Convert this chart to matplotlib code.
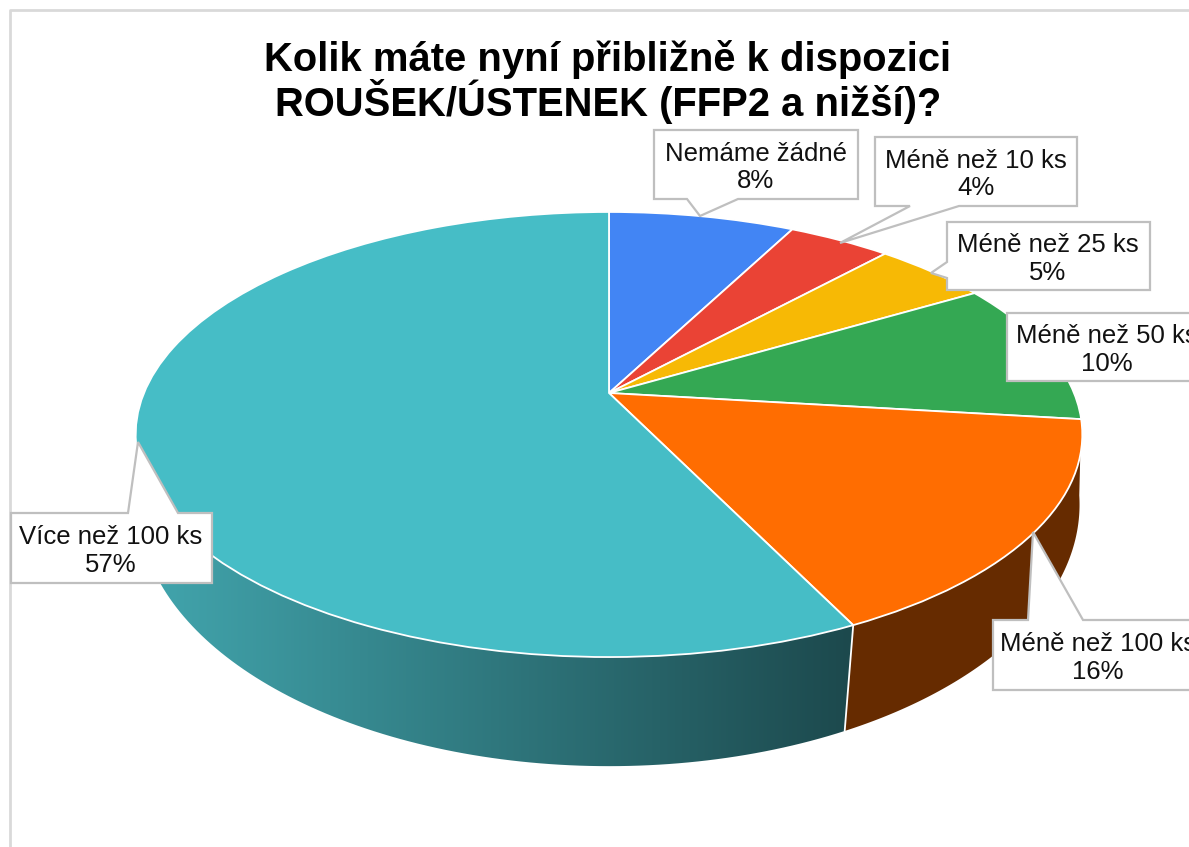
import matplotlib
matplotlib.use('Agg')
import matplotlib.pyplot as plt
import numpy as np
from matplotlib.colors import LinearSegmentedColormap
from matplotlib.patches import Polygon
from matplotlib.transforms import Transform

plt.rcParams['font.family'] = ['Liberation Sans', 'DejaVu Sans']

title = 'Kolik máte nyní přibližně k dispozici\nROUŠEK/ÚSTENEK (FFP2 a nižší)?'
categories = ['Nemáme žádné', 'Méně než 10 ks', 'Méně než 25 ks',
              'Méně než 50 ks', 'Méně než 100 ks', 'Více než 100 ks']
values = [7.6, 4.2, 4.7, 10.4, 15.9, 57.2]
colors = ['#4285F4', '#EA4335', '#F7B905', '#34A853', '#FF6D01', '#46BDC6']

# label boxes in pixels: left, top, right, bottom, text centre x, callout points
boxes = [
    (654, 130, 858, 199, 756, [(738, 199), (700, 216), (687, 199)]),
    (875, 137, 1077, 206, 976, [(959, 206), (840, 243), (910, 206)]),
    (947, 222, 1150, 290, 1048, [(947, 278), (931, 273), (947, 262)]),
    (1007, 313, 1200, 381, 1107, []),
    (993, 620, 1200, 690, 1098, [(1083, 620), (1033, 532), (1028, 620)]),
    (11, 513, 212, 583, 111, [(178, 513), (138, 442), (128, 513)]),
]


class Tilt(Transform):
    # perspective view of a unit circle lying on a table, result in pixels
    input_dims = 2
    output_dims = 2

    def __init__(self, a, b, cy, k, cx=609):
        super().__init__()
        self.a, self.b, self.cy, self.k, self.cx = a, b, cy, k, cx

    def transform_non_affine(self, xy):
        xy = np.asarray(xy, dtype=float)
        d = 1 + self.k * xy[:, 1]
        return np.column_stack((self.cx + self.a * xy[:, 0] / d,
                                self.cy - self.b * xy[:, 1] / d))


top = Tilt(465, 214.8, 393, 0.1865)
bottom = Tilt(465, 255.5, 464.5, 0.153)


def arc(tr, t1, t2):
    t = np.radians(np.linspace(t1, t2, 200))
    return tr.transform_non_affine(np.column_stack((np.cos(t), np.sin(t))))


fig = plt.figure(figsize=(11.89, 8.47), dpi=100)
ax = fig.add_axes([0, 0, 1, 1])

wedges, _ = ax.pie(values, colors=colors, startangle=90, counterclock=False,
                   wedgeprops={'edgecolor': 'white', 'linewidth': 1.3, 'zorder': 3})
for w in wedges:
    w.set_transform(top + ax.transData)

# sides of the two front slices
orange, teal = wedges[4], wedges[5]
pts = np.vstack((arc(top, orange.theta1, orange.theta2), arc(bottom, orange.theta2, orange.theta1)))
ax.fill(pts[:, 0], pts[:, 1], color='#662B00', lw=0, zorder=1)

pts = np.vstack((arc(top, teal.theta1, teal.theta2), arc(bottom, teal.theta2, teal.theta1)))
side = ax.fill(pts[:, 0], pts[:, 1], color='none', lw=0, zorder=1)[0]
cmap = LinearSegmentedColormap.from_list('side', ['#41A3AB', '#1C484C'])
im = ax.imshow(np.linspace(0, 1, 256).reshape(1, -1), cmap=cmap, aspect='auto',
               extent=[160, 860, 847, 0], zorder=1.5)
im.set_clip_path(side)

# divider between the two sides
a = arc(top, orange.theta1, orange.theta1)[0]
b = arc(bottom, orange.theta1, orange.theta1)[0]
ax.plot([a[0], b[0]], [a[1], b[1]], color='white', lw=1.3, zorder=2)

# outer chart frame
ax.plot([10, 10, 1189], [847, 10, 10], color='#D9D9D9', lw=2, zorder=1)

ax.text(608, 82, title, ha='center', va='center', fontsize=28.8, fontweight='bold',
        color='black', linespacing=0.99)

for cat, val, box in zip(categories, values, boxes):
    l, t, r, b, tx, call = box
    corners = [(l, t), (r, t), (r, b), (l, b)]
    # put the callout into the side of the box it leaves from
    if call and call[0][0] == l:
        pts = corners + call
    elif call and call[0][1] == b:
        pts = [(l, t), (r, t), (r, b)] + call + [(l, b)]
    elif call:
        pts = [(l, t)] + call[::-1] + [(r, t), (r, b), (l, b)]
    else:
        pts = corners
    ax.add_patch(Polygon(pts, closed=True, facecolor='white', edgecolor='#BFBFBF',
                         lw=1.6, zorder=4, joinstyle='miter'))
    ax.text(tx, (t + b) / 2 + 3, f'{cat}\n{round(val)}%', ha='center', va='center',
            fontsize=18.5, color='#111111', zorder=5, clip_on=True, linespacing=1.2)

ax.set_xlim(0, 1189)
ax.set_ylim(847, 0)
ax.set_aspect('auto')
ax.axis('off')

fig.savefig('out.png', dpi=100)
